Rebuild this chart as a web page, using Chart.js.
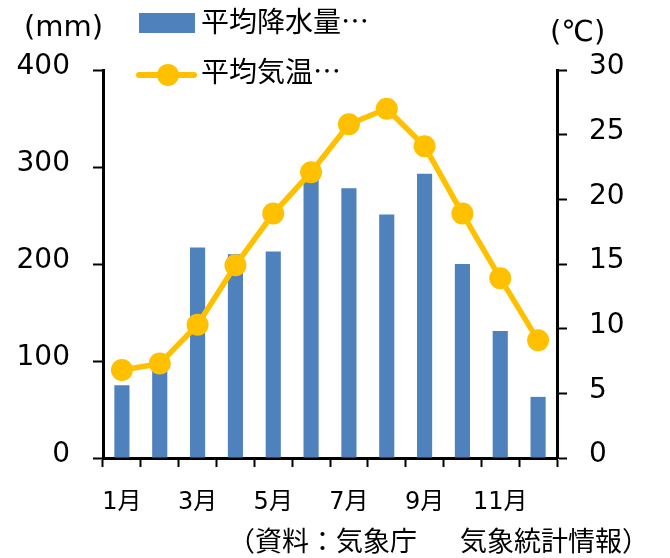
<!DOCTYPE html>
<html lang="ja">
<head>
    <meta charset="UTF-8">
    <title>平均降水量と平均気温</title>
    <script src="https://cdn.jsdelivr.net/npm/chart.js"></script>
    <style>
        body {
            margin: 0;
            background: #fff;
        }
        #wrap {
            position: relative;
            width: 670px;
            height: 558px;
        }
        #wrap canvas {
            position: absolute;
            left: 0;
            top: 0;
        }
        .txt {
            position: absolute;
            white-space: nowrap;
            color: #000;
            font-family: "Noto Sans CJK JP", sans-serif;
            line-height: 1;
        }
        .unit {
            font-family: "DejaVu Sans", "Noto Sans CJK JP", sans-serif;
            font-size: 29px;
        }
        .legend-box {
            position: absolute;
            left: 139px;
            top: 13px;
            width: 56px;
            height: 20px;
            background: #4f81bd;
        }
        .legend-line {
            position: absolute;
            left: 136px;
            top: 72px;
            width: 61px;
            height: 6px;
            border-radius: 3px;
            background: #ffc000;
        }
        .legend-dot {
            position: absolute;
            left: 157px;
            top: 64px;
            width: 22px;
            height: 22px;
            border-radius: 50%;
            background: #ffc000;
        }
    </style>
</head>
<body>
<div id="wrap">
    <canvas id="myChart" width="670" height="558"></canvas>
    <div class="txt unit" style="left:24px; top:12px;">(mm)</div>
    <div class="txt unit" style="left:550px; top:17px;">(℃)</div>
    <div class="legend-box"></div>
    <div class="txt" style="left:201px; top:6px; font-size:28px;">平均降水量…</div>
    <div class="legend-line"></div>
    <div class="legend-dot"></div>
    <div class="txt" style="left:201px; top:56px; font-size:28px;">平均気温…</div>
    <div class="txt" style="left:228px; top:526px; font-size:27px;">（資料：気象庁<span style="letter-spacing:16px;">　</span>気象統計情報）</div>
</div>
<script>
    // data
    var months = ['1月', '2月', '3月', '4月', '5月', '6月', '7月', '8月', '9月', '10月', '11月', '12月'];
    var rainfall = [75, 92, 217, 210, 213, 290, 278, 251, 293, 200, 131, 63];
    var temperature = [6.8, 7.3, 10.3, 14.9, 18.9, 22.1, 25.8, 27.0, 24.1, 18.9, 13.9, 9.1];
    var rainTicks = [0, 100, 200, 300, 400];
    var tempTicks = [0, 5, 10, 15, 20, 25, 30];

    var numFont = { family: '"DejaVu Sans", "Noto Sans CJK JP", sans-serif', size: 28 };

    var chartData = {
        labels: months,
        datasets: [{
            type: 'line',
            label: '平均気温',
            data: temperature,
            yAxisID: 'y1',
            borderColor: '#ffc000',
            backgroundColor: '#ffc000',
            borderWidth: 5.5,
            pointRadius: 11,
            pointBorderWidth: 0,
            pointBackgroundColor: '#ffc000',
            tension: 0,
            order: 0
        }, {
            type: 'bar',
            label: '平均降水量',
            data: rainfall,
            yAxisID: 'y',
            backgroundColor: '#4f81bd',
            barPercentage: 0.4,
            categoryPercentage: 1.0,
            order: 1
        }]
    };

    var config = {
        data: chartData,
        options: {
            responsive: false,
            animation: false,
            layout: { padding: { top: 70, left: 0, right: 0, bottom: 0 } },
            plugins: {
                legend: { display: false },
                tooltip: { enabled: false }
            },
            scales: {
                x: {
                    offset: true,
                    grid: {
                        offset: true,
                        drawOnChartArea: false,
                        tickLength: 9,
                        tickWidth: 2,
                        tickColor: '#000'
                    },
                    border: { color: '#000', width: 3 },
                    ticks: {
                        autoSkip: false,
                        maxRotation: 0,
                        color: '#000',
                        padding: 21,
                        font: { family: '"DejaVu Sans", "Noto Sans CJK JP", sans-serif', size: 24 },
                        callback: function(value, index) {
                            return index % 2 === 0 ? months[index] : '';
                        }
                    },
                    afterFit: function(scale) { scale.height = 100; }
                },
                y: {
                    position: 'left',
                    min: rainTicks[0],
                    max: rainTicks[rainTicks.length - 1],
                    grid: {
                        drawOnChartArea: false,
                        tickLength: 10,
                        tickWidth: 2,
                        tickColor: '#000'
                    },
                    border: { color: '#000', width: 3 },
                    afterBuildTicks: function(scale) {
                        scale.ticks = rainTicks.map(function(v) { return { value: v }; });
                    },
                    ticks: {
                        color: '#000',
                        padding: 23,
                        labelOffset: -3,
                        font: numFont
                    },
                    afterFit: function(scale) { scale.width = 103; }
                },
                y1: {
                    position: 'right',
                    min: tempTicks[0],
                    max: tempTicks[tempTicks.length - 1],
                    grid: {
                        drawOnChartArea: false,
                        tickLength: 10,
                        tickWidth: 2,
                        tickColor: '#000'
                    },
                    border: { color: '#000', width: 3 },
                    afterBuildTicks: function(scale) {
                        scale.ticks = tempTicks.map(function(v) { return { value: v }; });
                    },
                    ticks: {
                        color: '#000',
                        padding: 22,
                        labelOffset: -3,
                        font: numFont
                    },
                    afterFit: function(scale) { scale.width = 113; }
                }
            }
        }
    };

    var ctx = document.getElementById('myChart').getContext('2d');
    window.myChart = new Chart(ctx, config);
</script>
</body>
</html>
